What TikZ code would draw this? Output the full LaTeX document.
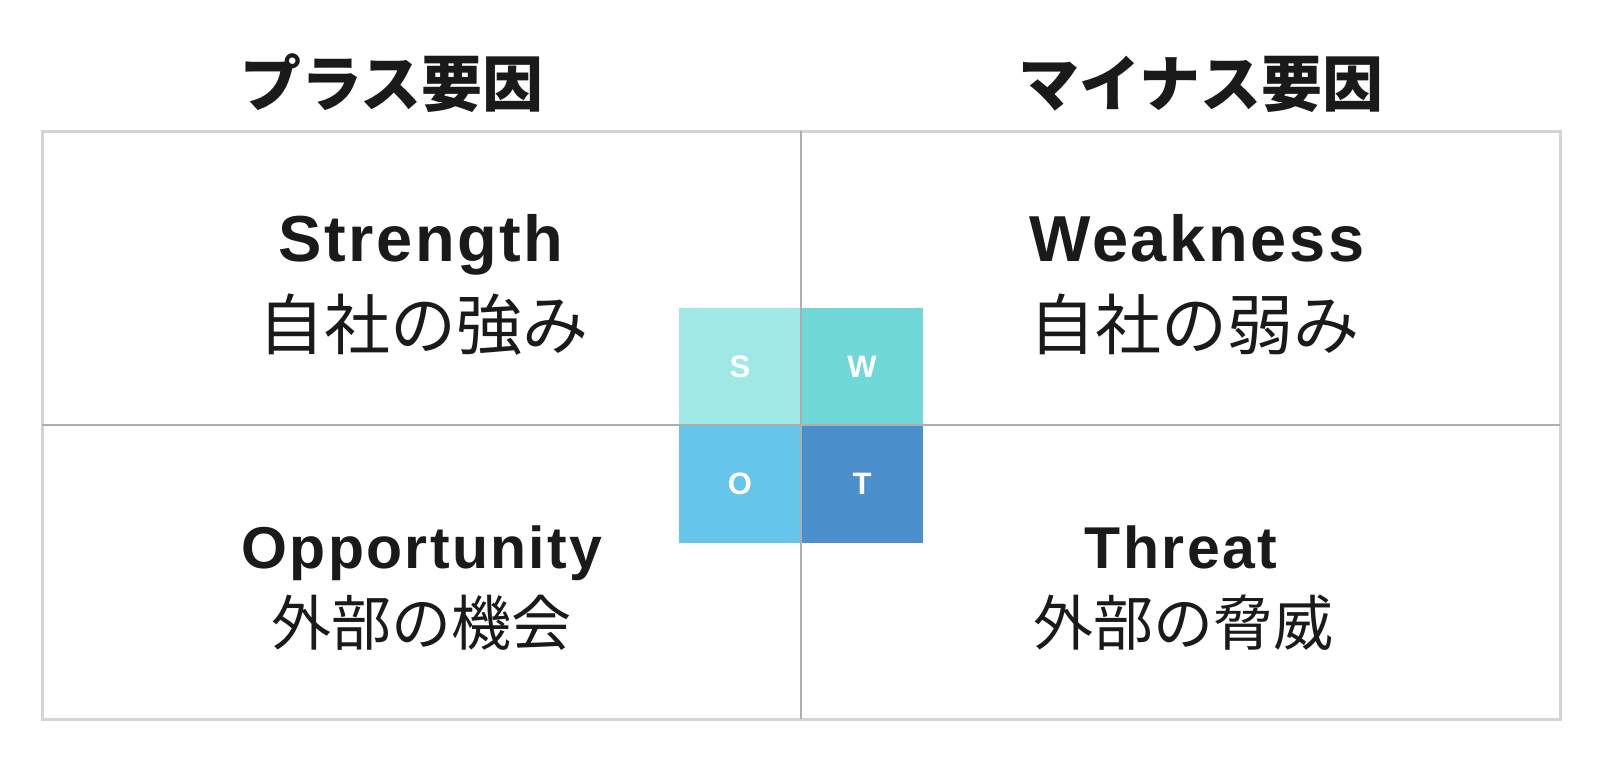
\documentclass[tikz,border=0pt]{standalone}
\usepackage{fontspec}
\setmainfont{Liberation Sans}
\newfontfamily\jp{Noto Sans CJK JP}
\newfontfamily\en[LetterSpace=4]{Liberation Sans}
\definecolor{ink}{HTML}{1A1A1A}
\definecolor{framegray}{HTML}{D4D4D4}
\definecolor{midgray}{HTML}{AEAEAE}
\definecolor{sfill}{HTML}{A0E8E6}
\definecolor{wfill}{HTML}{70D8D6}
\definecolor{ofill}{HTML}{66C5EA}
\definecolor{tfill}{HTML}{4B8FCC}

\begin{document}
\begin{tikzpicture}[x=1pt,y=-1pt,
    cell/.style={minimum width=122pt,minimum height=117.5pt,inner sep=0pt,outer sep=0pt,
      text=white,font=\bfseries\fontsize{31}{31}\selectfont},
    head/.style={anchor=base,inner sep=0pt,text=ink,font=\jp\bfseries\fontsize{61}{61}\selectfont},
    ena/.style={anchor=base,inner sep=0pt,text=ink,font=\en\bfseries\fontsize{65}{65}\selectfont},
    jpa/.style={anchor=base,inner sep=0pt,text=ink,font=\jp\fontsize{66}{66}\selectfont},
    enb/.style={anchor=base,inner sep=0pt,text=ink,font=\en\bfseries\fontsize{59}{59}\selectfont},
    jpb/.style={anchor=base,inner sep=0pt,text=ink,font=\jp\fontsize{60}{60}\selectfont}]
  \useasboundingbox (0,0) rectangle (1600,769);
  \coordinate (nw) at (42,131);
  \coordinate (se) at (1560,719);
  \coordinate (top) at (801,131);
  \coordinate (bot) at (801,719);
  \coordinate (lft) at (42,425);
  \coordinate (rgt) at (1560,425);
  % the four letter squares
  \node[cell,fill=sfill] (s) at (740,366.5) {S};
  \node[cell,fill=wfill] (w) at (862,366.5) {W};
  \node[cell,fill=ofill] (o) at (740,484) {O};
  \node[cell,fill=tfill] (t) at (862,484) {T};
  \draw[framegray,line width=3pt] (nw) rectangle (se);
  \draw[midgray,line width=2pt] (top) -- (bot);
  \draw[midgray,line width=2pt] (lft) -- (rgt);
  % headings
  \node[head] (plus) at (392,106) {プラス要因};
  \node[head] (minus) at (1201,106) {マイナス要因};
  % quadrants
  \node[ena] (str) at (421,261) {Strength};
  \node[jpa] (strj) at (423,349) {自社の強み};
  \node[ena] (weak) at (1197,261) {Weakness};
  \node[jpa] (weakj) at (1194,349) {自社の弱み};
  \node[enb] (opp) at (422,568) {Opportunity};
  \node[jpb] (oppj) at (421,645) {外部の機会};
  \node[enb] (thr) at (1181,568) {Threat};
  \node[jpb] (thrj) at (1183,645) {外部の脅威};
\end{tikzpicture}
\end{document}
